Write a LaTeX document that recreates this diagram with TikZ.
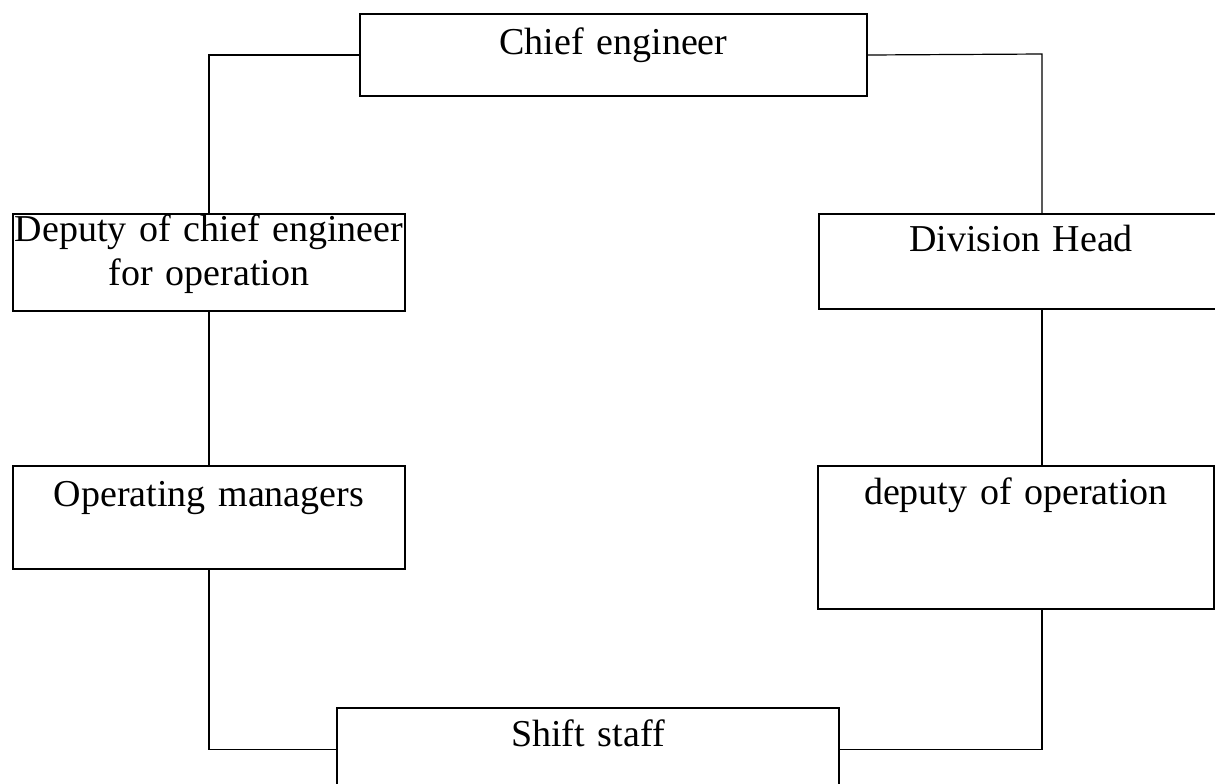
\documentclass[tikz,border=0pt]{standalone}
\usepackage{fontspec}
\setmainfont{Liberation Serif}
\usetikzlibrary{positioning,calc}

\newcommand{\orgfont}{\fontsize{19}{22}\selectfont\spaceskip=0.18em plus 0.06em minus 0.03em\relax}

\begin{document}
\begin{tikzpicture}
	[x=0.5pt,y=-0.5pt,
	box/.style={draw,line width=1pt,inner sep=0pt,anchor=north west,
		align=center,font=\orgfont},
	link/.style={-,line width=0.6pt}]
	\useasboundingbox (0,0) rectangle (1215,783);
	
	\node[box,text width=253.5pt,text height=20pt,text depth=21pt] (chief) at (359,13) {Chief engineer};
	\node[box,text width=196pt,text height=13.5pt,text depth=35pt] (dep) at (12,213)
		{Deputy of chief engineer\\for operation};
	\node[box,text width=202pt,text height=18.5pt,text depth=29pt] (div) at (818,213) {Division Head};
	\node[box,text width=196pt,text height=20pt,text depth=31.5pt] (opm) at (12,465) {Operating managers};
	\node[box,text width=198pt,text height=19pt,text depth=52.5pt] (depop) at (817,465) {deputy of operation};
	\node[box,text width=251pt,text height=19pt,text depth=22.5pt] (shift) at (336,707) {Shift staff};
	\coordinate (rtop) at (1042,54);
	
	\draw[link] (chief.west) -| (dep.north);
	\draw[link] (chief.east) -- (rtop) -- (rtop |- div.north);
	\draw[link] (dep.south) -- (opm.north);
	\draw[link] (rtop |- div.south) -- (rtop |- depop.north);
	\draw[link] (opm.south) |- (shift.west);
	\draw[link] (rtop |- depop.south) |- (shift.east);
\end{tikzpicture}
\end{document}
